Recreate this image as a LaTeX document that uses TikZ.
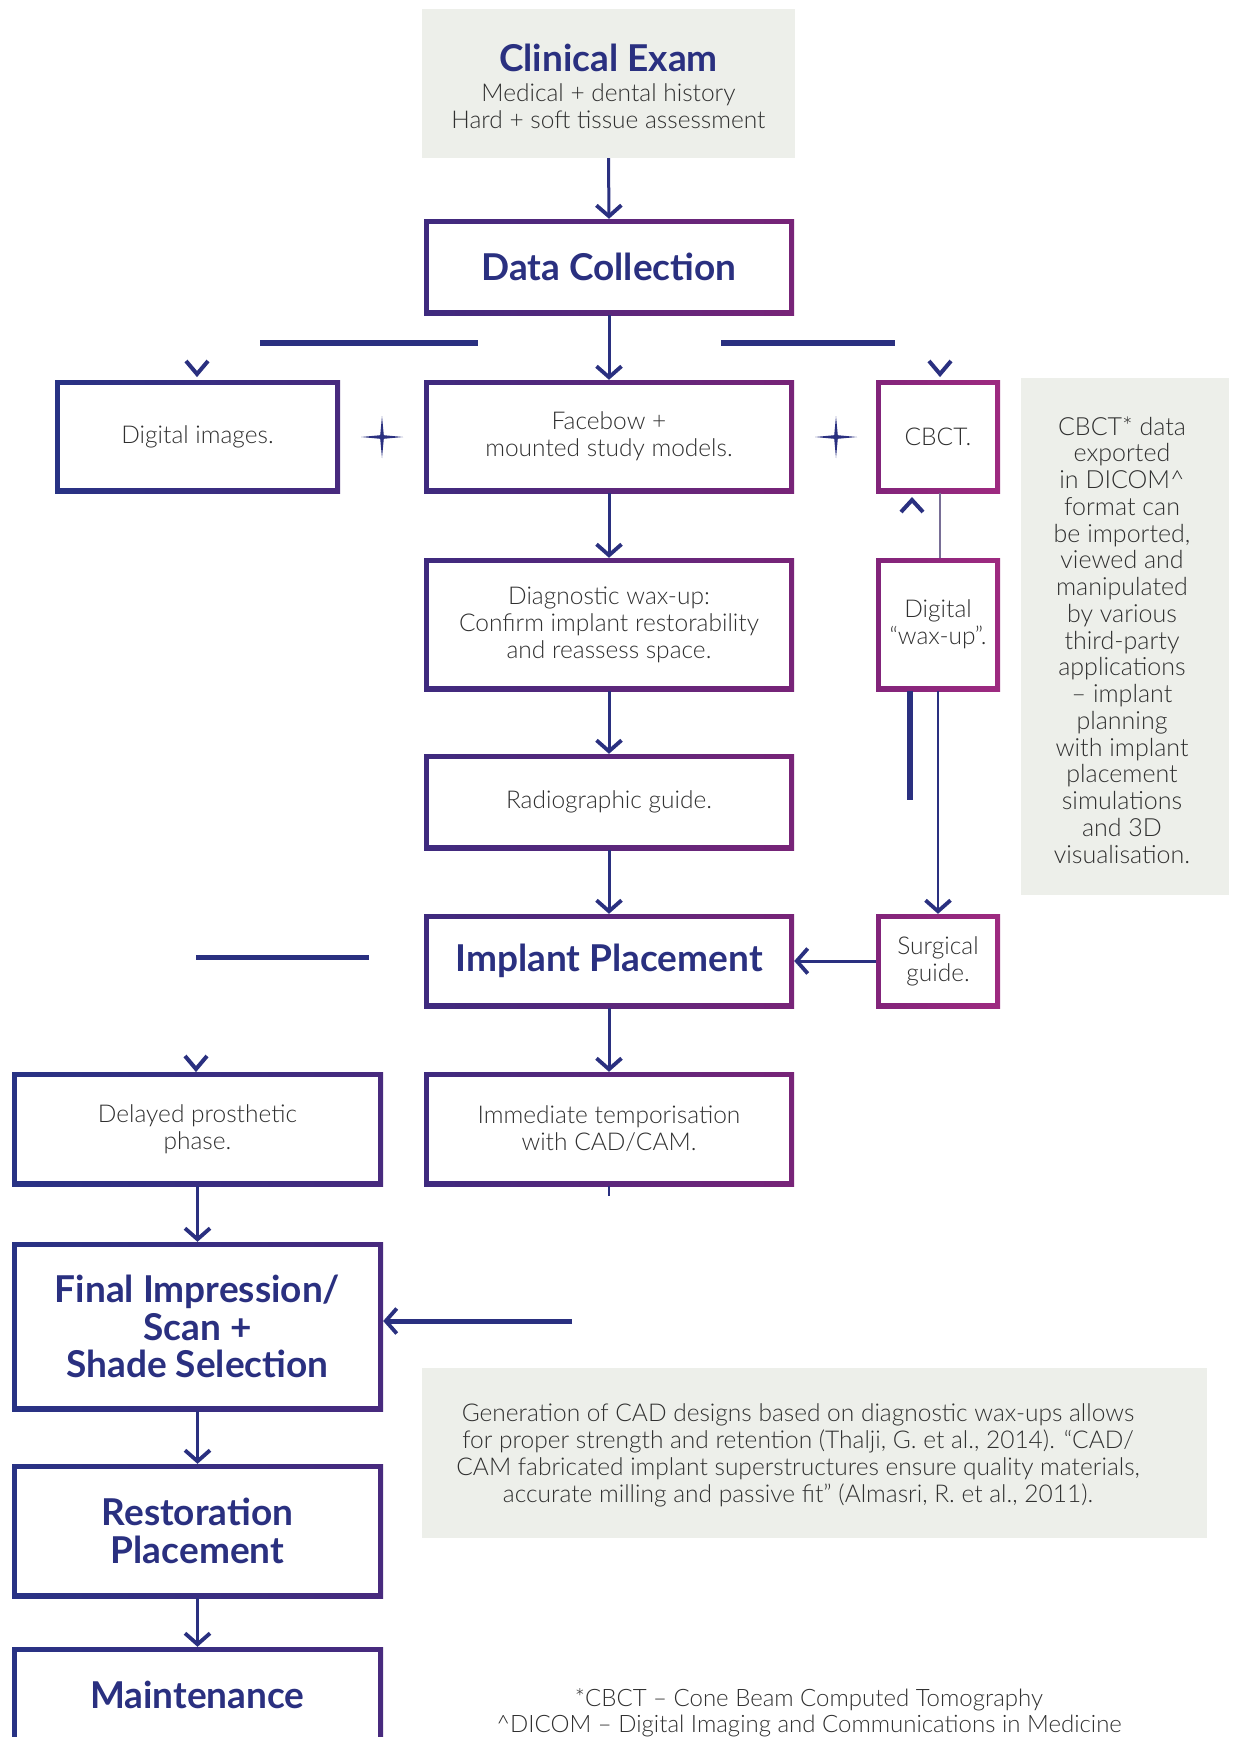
\documentclass[tikz,border=0pt]{standalone}
\usepackage{fontspec}
\usetikzlibrary{arrows.meta,calc}
\IfFontExistsTF{Lato Light}{\setmainfont{Lato Light}}{\setmainfont{Lato}}
\newfontfamily\titlef{Lato}
\definecolor{navy}{RGB}{42,48,128}
\definecolor{txt}{RGB}{48,48,48}
\definecolor{greyfill}{RGB}{237,239,234}
\definecolor{lA}{RGB}{40,50,132}
\definecolor{lB}{RGB}{72,42,126}
\definecolor{mA}{RGB}{62,42,126}
\definecolor{mB}{RGB}{120,36,120}
\definecolor{rA}{RGB}{130,36,122}
\definecolor{rB}{RGB}{158,42,128}
\definecolor{thinl}{RGB}{120,110,150}
\tikzset{
  box/.style n args={2}{rectangle, inner sep=0pt, left color=#1, right color=#2,
    path picture={\fill[white] ([shift={(5pt,-5pt)}]path picture bounding box.north west) rectangle ([shift={(-5pt,5pt)}]path picture bounding box.south east);},
    text=txt, align=center, font=\fontsize{24.5}{27}\selectfont},
  lbox/.style={box={lA}{lB}},
  mbox/.style={box={mA}{mB}},
  rbox/.style={box={rA}{rB}},
  ttl/.style={font=\titlef\bfseries\fontsize{37}{38}\selectfont, text=navy},
  greybox/.style={rectangle, inner sep=0pt, fill=greyfill},
  plain/.style={inner sep=0pt, text=txt, align=center, font=\fontsize{24.5}{27}\selectfont},
  arr/.style={draw=navy, line width=3pt, -{Straight Barb[length=11pt,width=25pt,line width=3.8pt]}},
  chev/.style={draw=navy, line width=4pt},
  bar/.style={draw=navy, line width=5.5pt},
}
\newcommand{\plusstar}[1]{\fill[navy] (#1) ++(-21,0) -- ++(19.2,-1.8) -- ++(1.8,-19.2) -- ++(1.8,19.2) -- ++(19.2,1.8) -- ++(-19.2,1.8) -- ++(-1.8,19.2) -- ++(-1.8,-19.2) -- cycle;}
\begin{document}
\begin{tikzpicture}[x=1pt,y=-1pt]
\useasboundingbox[fill=white] (0,0) rectangle (1235,1737);

% grey boxes
\node[greybox, minimum width=373pt, minimum height=149pt] (exam) at (608.5,83.5) {};
\node[plain] (examtxt) at (608.5,86) {{\titlef\bfseries\fontsize{37}{37}\selectfont\color{navy}Clinical Exam}\\[3pt] Medical + dental history\\ Hard + soft tissue assessment};
\node[greybox, minimum width=208pt, minimum height=517pt] (side) at (1125,636.5) {};
\node[plain, font=\fontsize{25}{26.75}\selectfont] (sidetxt) at (1122,640) {CBCT* data\\ exported\\ in DICOM\textasciicircum\\ format can\\ be imported,\\ viewed and\\ manipulated\\ by various\\ third-party\\ applications\\ – implant\\ planning\\ with implant\\ placement\\ simulations\\ and 3D\\ visualisation.};
\node[greybox, minimum width=785pt, minimum height=170pt] (cad) at (814.5,1453) {};
\node[plain] (cadtxt) at (798,1455) {Generation of CAD designs based on diagnostic wax-ups allows\\ for proper strength and retention (Thalji, G. et al., 2014). “CAD/\\ CAM fabricated implant superstructures ensure quality materials,\\ accurate milling and passive fit” (Almasri, R. et al., 2011).};
\node[plain, font=\fontsize{24}{26}\selectfont] (foot) at (809,1713) {*CBCT – Cone Beam Computed Tomography\\ \textasciicircum DICOM – Digital Imaging and Communications in Medicine};

% boxes
\node[mbox, ttl, minimum width=370pt, minimum height=96pt] (dc) at (609,267) {Data Collection};
\node[box={lA}{lB}, minimum width=285pt, minimum height=113pt] (di) at (197.5,436.5) {Digital images.};
\node[mbox, minimum width=370pt, minimum height=113pt] (fb) at (609,436.5) {Facebow +\\ mounted study models.};
\node[rbox, minimum width=124pt, minimum height=113pt] (cbct) at (938,436.5) {CBCT.};
\node[mbox, minimum width=370pt, minimum height=133pt] (dw) at (609,624.5) {Diagnostic wax-up:\\ Confirm implant restorability\\ and reassess space.};
\node[rbox, minimum width=124pt, minimum height=133pt] (dwx) at (938,624.5) {Digital\\ “wax-up”.};
\node[mbox, minimum width=370pt, minimum height=96pt] (rg) at (609,802) {Radiographic guide.};
\node[mbox, ttl, minimum width=370pt, minimum height=94pt] (ip) at (609,961) {Implant Placement};
\node[rbox, minimum width=124pt, minimum height=94pt] (sg) at (938,961) {Surgical\\ guide.};
\node[lbox, minimum width=371pt, minimum height=114pt] (dp) at (197.5,1129) {Delayed prosthetic\\ phase.};
\node[mbox, minimum width=370pt, minimum height=114pt] (it) at (609,1129) {Immediate temporisation\\ with CAD/CAM.};
\node[lbox, ttl, font=\titlef\bfseries\fontsize{37}{37.6}\selectfont, minimum width=371pt, minimum height=169pt] (fi) at (197.5,1326.5) {Final Impression/\\ Scan +\\ Shade Selection};
\node[lbox, ttl, font=\titlef\bfseries\fontsize{37}{38}\selectfont, minimum width=371pt, minimum height=134pt] (rp) at (197.5,1531) {Restoration\\ Placement};
\node[lbox, ttl, minimum width=371pt, minimum height=96pt] (mt) at (197.5,1695) {Maintenance};

% main arrows
\draw[arr] (exam.south) -- (dc.north);
\draw[arr] (dc.south) -- (fb.north);
\draw[arr] (fb.south) -- (dw.north);
\draw[arr] (dw.south) -- (rg.north);
\draw[arr] (rg.south) -- (ip.north);
\draw[arr] (ip.south) -- (it.north);
\draw[arr] (dp.south) -- (fi.north);
\draw[arr] (fi.south) -- (rp.north);
\draw[arr] (rp.south) -- (mt.north);
\draw[arr] (sg.west) -- (ip.east);
\coordinate (fin) at (572,1321);
\draw[arr, line width=5pt] (fin) -- (fi.east |- fin);
\draw[arr, line width=2pt] (dwx.south) -- (sg.north);
\coordinate (tk) at (910,800);
\draw[bar] (dwx.south -| tk) -- (tk);
\coordinate (cbl) at (940,0);
\draw[draw=thinl, line width=1.5pt] (cbct.south -| cbl) -- (dwx.north -| cbl);
\coordinate (itk) at (609,1196);
\draw[draw=navy, line width=2pt] (it.south) -- (itk);

% bars
\coordinate (b1a) at (260,343); \coordinate (b1b) at (478,343);
\coordinate (b2a) at (721,343); \coordinate (b2b) at (895,343);
\coordinate (b3a) at (196,957); \coordinate (b3b) at (369,957);
\draw[bar] (b1a) -- (b1b);
\draw[bar] (b2a) -- (b2b);
\draw[bar, line width=5pt] (b3a) -- (b3b);

% chevrons
\coordinate (v1) at (197,374);
\coordinate (v2) at (940,374);
\coordinate (v3) at (196,1069);
\coordinate (car) at (912,500);
\draw[chev] (v1) ++(-11,-13) -- (v1) -- ++(11,-13);
\draw[chev] (v2) ++(-11,-13) -- (v2) -- ++(11,-13);
\draw[chev] (v3) ++(-11,-13) -- (v3) -- ++(11,-13);
\draw[chev] (car) ++(-11,12) -- (car) -- ++(11,12);

% plus stars
\coordinate (p1) at (382,437);
\coordinate (p2) at (836,437);
\plusstar{p1}
\plusstar{p2}
\end{tikzpicture}
\end{document}
